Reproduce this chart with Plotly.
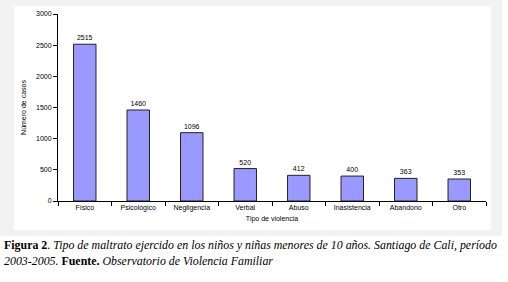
import plotly.graph_objects as go

categories = ["Físico", "Psicológico", "Negligencia", "Verbal", "Abuso", "Inasistencia", "Abandono", "Otro"]
casos = [2515, 1460, 1096, 520, 412, 400, 363, 353]
y_ticks = [0, 500, 1000, 1500, 2000, 2500, 3000]

W, H = 508, 282
L, R, T, B = 58, 22, 14, 81
pw, ph = W - L - R, H - T - B

def px(x):
    return (x - L) / pw

def py(y):
    return (H - B - y) / ph

fig = go.Figure()
fig.add_trace(go.Bar(
    x=categories, y=casos,
    marker=dict(color="#9999ff", line=dict(color="#222222", width=1)),
    text=[str(v) for v in casos], textposition="outside",
    textfont=dict(family="Arial", size=7, color="#000000"),
    cliponaxis=False, width=0.42, hoverinfo="skip",
))

fig.update_layout(
    width=W, height=H,
    margin=dict(l=L, r=R, t=T, b=B, pad=0),
    paper_bgcolor="white", plot_bgcolor="rgba(0,0,0,0)",
    showlegend=False, bargap=0.58,
    font=dict(family="Arial", size=7, color="#000000"),
    shapes=[
        dict(type="rect", xref="paper", yref="paper", x0=px(0), x1=px(502), y0=py(236), y1=py(0),
             fillcolor="#f2f2f2", line=dict(width=0), layer="below"),
        dict(type="rect", xref="paper", yref="paper", x0=px(14), x1=px(491), y0=py(230), y1=py(6),
             fillcolor="#ffffff", line=dict(width=0), layer="below"),
    ],
    annotations=[
        dict(xref="paper", yref="paper", x=px(2), y=py(245), xanchor="left", yanchor="middle",
             showarrow=False,
             text="<b>Figura 2</b>. <i>Tipo de maltrato ejercido en los niños y niñas menores de 10 años. Santiago de Cali, período</i>",
             font=dict(family="Liberation Serif", size=11.9, color="#000000")),
        dict(xref="paper", yref="paper", x=px(2), y=py(261), xanchor="left", yanchor="middle",
             showarrow=False,
             text="<i>2003-2005.</i> <b>Fuente.</b> <i>Observatorio de Violencia Familiar</i>",
             font=dict(family="Liberation Serif", size=11.9, color="#000000")),
    ],
)

fig.update_xaxes(
    showline=True, linecolor="#000000", linewidth=1,
    ticks="outside", ticklen=4, tickcolor="#000000", tickson="boundaries",
    tickfont=dict(family="Arial", size=7),
    title=dict(text="Tipo de violencia", font=dict(family="Arial", size=7), standoff=4),
    showgrid=False, zeroline=False, automargin=False,
)
fig.update_yaxes(
    range=[0, 3000], tickvals=y_ticks, ticktext=[str(v) for v in y_ticks],
    showline=True, linecolor="#000000", linewidth=1,
    ticks="outside", ticklen=4, tickcolor="#000000",
    tickfont=dict(family="Arial", size=7),
    title=dict(text="Número de casos", font=dict(family="Arial", size=7), standoff=8),
    showgrid=False, zeroline=False, automargin=False,
)

fig.write_html("out.html", config={"displayModeBar": False},
               post_script="document.body.style.margin='0px';document.body.style.overflow='hidden';")
